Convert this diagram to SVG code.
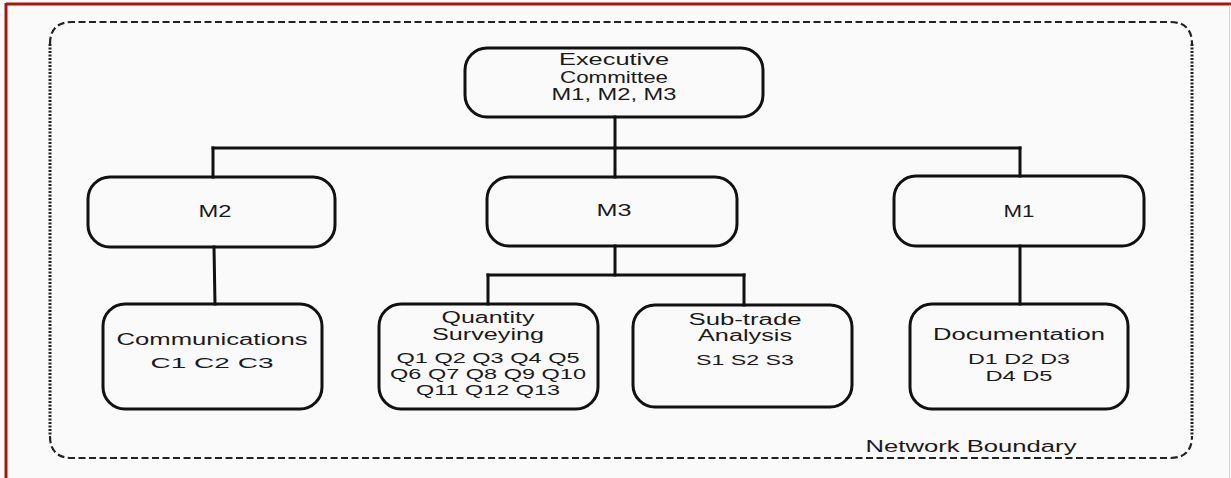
<svg xmlns="http://www.w3.org/2000/svg" width="1231" height="478" viewBox="0 0 1231 478">
  <style>
    .box { fill: none; stroke: #111; stroke-width: 3; }
    .link { fill: none; stroke: #111; stroke-width: 3; stroke-linecap: square; }
    .lbl { font-family: "Liberation Sans", Arial, sans-serif; font-size: 16px; fill: #1a1a1a; text-anchor: middle; }
    .sub { font-size: 15px; }
    .dash { fill: none; stroke: #222; stroke-width: 2.2; stroke-dasharray: 7 3.5; }
    .dot { fill: none; stroke: #222; stroke-width: 3; stroke-dasharray: 2 1.5; }
  </style>

  <!-- page background and frame -->
  <rect x="0" y="0" width="1231" height="478" fill="#fafafa"/>
  <line x1="6" y1="4" x2="1231" y2="4" stroke="#a2180e" stroke-width="3"/>
  <line x1="6" y1="3" x2="6" y2="478" stroke="#a2180e" stroke-width="3"/>
  <line x1="1229.5" y1="5" x2="1229.5" y2="478" stroke="#e8c9c6" stroke-width="1"/>

  <!-- network boundary: dashed top/bottom, dotted sides -->
  <g id="boundary">
    <path class="dash" d="M50,44 Q50,22 72,22 L1170,22 Q1192,22 1192,44"/>
    <path class="dash" d="M50,436 Q50,458 72,458 L1170,458 Q1192,458 1192,436"/>
    <line class="dot" x1="50" y1="44" x2="50" y2="436"/>
    <line class="dot" x1="1192" y1="44" x2="1192" y2="436"/>
    <text class="lbl" x="971" y="452" textLength="211" lengthAdjust="spacingAndGlyphs">Network Boundary</text>
  </g>

  <!-- connectors -->
  <g id="connectors">
    <line class="link" x1="615" y1="117" x2="615" y2="148"/>
    <line class="link" x1="213" y1="148" x2="1020" y2="148"/>
    <line class="link" x1="213" y1="148" x2="213" y2="177"/>
    <line class="link" x1="615" y1="148" x2="615" y2="177"/>
    <line class="link" x1="1020" y1="148" x2="1020" y2="176"/>
    <line class="link" x1="214" y1="247" x2="215" y2="304"/>
    <line class="link" x1="615" y1="246" x2="615" y2="275"/>
    <line class="link" x1="488" y1="275" x2="744" y2="275"/>
    <line class="link" x1="488" y1="275" x2="488" y2="304"/>
    <line class="link" x1="744" y1="275" x2="744" y2="305"/>
    <line class="link" x1="1020" y1="246" x2="1020" y2="304"/>
  </g>

  <g id="executive">
    <rect class="box" x="465" y="48" width="298" height="69" rx="22"/>
    <text class="lbl" x="614" y="65" textLength="110" lengthAdjust="spacingAndGlyphs">Executive</text>
    <text class="lbl" x="614" y="83" textLength="108" lengthAdjust="spacingAndGlyphs">Committee</text>
    <text class="lbl" x="614" y="100" textLength="125" lengthAdjust="spacingAndGlyphs">M1, M2, M3</text>
  </g>

  <g id="m2">
    <rect class="box" x="88" y="177" width="247" height="70" rx="22"/>
    <text class="lbl" x="215" y="217" textLength="33" lengthAdjust="spacingAndGlyphs">M2</text>
  </g>

  <g id="m3">
    <rect class="box" x="487" y="177" width="250" height="69" rx="22"/>
    <text class="lbl" x="614" y="216" textLength="35" lengthAdjust="spacingAndGlyphs">M3</text>
  </g>

  <g id="m1">
    <rect class="box" x="894" y="176" width="250" height="70" rx="22"/>
    <text class="lbl" x="1019" y="217" textLength="31" lengthAdjust="spacingAndGlyphs">M1</text>
  </g>

  <g id="communications">
    <rect class="box" x="103" y="304" width="219" height="105" rx="22"/>
    <text class="lbl" x="212" y="345" textLength="191" lengthAdjust="spacingAndGlyphs">Communications</text>
    <text class="lbl sub" x="212" y="368" textLength="123" lengthAdjust="spacingAndGlyphs">C1 C2 C3</text>
  </g>

  <g id="quantity-surveying">
    <rect class="box" x="379" y="304" width="219" height="105" rx="22"/>
    <text class="lbl" x="488" y="323" textLength="93" lengthAdjust="spacingAndGlyphs">Quantity</text>
    <text class="lbl" x="488" y="340" textLength="112" lengthAdjust="spacingAndGlyphs">Surveying</text>
    <text class="lbl sub" x="488" y="363" textLength="183" lengthAdjust="spacingAndGlyphs">Q1 Q2 Q3 Q4 Q5</text>
    <text class="lbl sub" x="488" y="379" textLength="196" lengthAdjust="spacingAndGlyphs">Q6 Q7 Q8 Q9 Q10</text>
    <text class="lbl sub" x="488" y="395" textLength="144" lengthAdjust="spacingAndGlyphs">Q11 Q12 Q13</text>
  </g>

  <g id="sub-trade">
    <rect class="box" x="633" y="305" width="219" height="102" rx="22"/>
    <text class="lbl" x="745" y="325" textLength="113" lengthAdjust="spacingAndGlyphs">Sub-trade</text>
    <text class="lbl" x="745" y="341" textLength="94" lengthAdjust="spacingAndGlyphs">Analysis</text>
    <text class="lbl sub" x="745" y="365" textLength="98" lengthAdjust="spacingAndGlyphs">S1 S2 S3</text>
  </g>

  <g id="documentation">
    <rect class="box" x="910" y="304" width="218" height="105" rx="22"/>
    <text class="lbl" x="1019" y="340" textLength="172" lengthAdjust="spacingAndGlyphs">Documentation</text>
    <text class="lbl sub" x="1019" y="364" textLength="102" lengthAdjust="spacingAndGlyphs">D1 D2 D3</text>
    <text class="lbl sub" x="1019" y="381" textLength="67" lengthAdjust="spacingAndGlyphs">D4 D5</text>
  </g>
</svg>
